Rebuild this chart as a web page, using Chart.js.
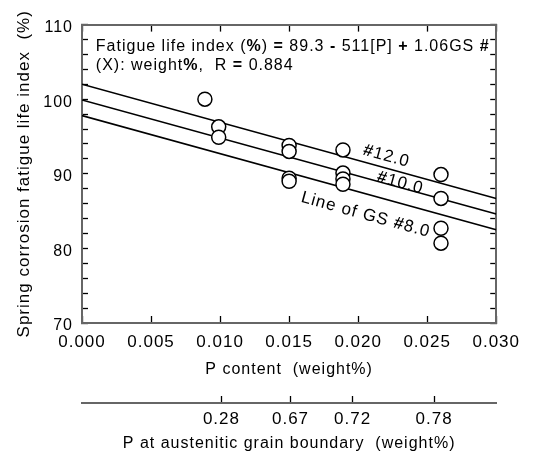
<!DOCTYPE html>
<html>
<head>
<meta charset="utf-8">
<script src="https://cdn.jsdelivr.net/npm/chart.js@4"></script>
<style>
  html, body { margin: 0; padding: 0; background: #fff; }
  #wrap { width: 534px; height: 461px; }
</style>
</head>
<body>
<div id="wrap"><canvas id="chart"></canvas></div>
<script>
// measured points: P content (wt%) vs fatigue life index (%)
const pContent = [0.0089, 0.0099, 0.0099, 0.0150, 0.0150, 0.0150, 0.0150,
  0.0189, 0.0189, 0.0189, 0.0189, 0.0260, 0.0260, 0.0260, 0.0260];
const fatigueIndex = [100.0, 96.3, 94.9, 93.8, 93.0, 89.4, 89.0,
  93.2, 90.1, 89.3, 88.6, 89.9, 86.7, 82.7, 80.7];

// regression lines, end points at P = 0 and P = 0.030
const lineP = [0, 0.030];
const gs12 = [102.0, 86.7];
const gs10 = [99.9, 84.6];
const gs8 = [97.8, 82.5];

// secondary axis: P at austenitic grain boundary
const boundaryTickPos = [0.0101, 0.0151, 0.0196, 0.0255];
const boundaryLabels = ["0.28", "0.67", "0.72", "0.78"];

const FONT = '"Liberation Sans", Arial, Helvetica, sans-serif';
Chart.defaults.font.family = FONT;
Chart.defaults.color = "#000";

const FRAME = "#666";

const pts = (xs, ys) => xs.map((v, i) => ({ x: v, y: ys[i] }));

function lineSet(vals) {
  return {
    type: "line",
    data: pts(lineP, vals),
    borderColor: "#000",
    borderWidth: 1.6,
    pointRadius: 0,
    fill: false,
  };
}

// draw a string made of normal / bold pieces
function runs(ctx, x, y, angle, size, parts) {
  ctx.save();
  ctx.translate(x, y);
  ctx.rotate(angle);
  ctx.textAlign = "left";
  ctx.textBaseline = "alphabetic";
  ctx.fillStyle = "#000";
  let cx = 0;
  parts.forEach(([text, bold]) => {
    ctx.font = (bold ? "bold " : "") + size + "px " + FONT;
    ctx.fillText(text, cx, 0);
    cx += ctx.measureText(text).width;
  });
  ctx.restore();
}

const spacing = {
  id: "spacing",
  beforeDraw(chart) {
    chart.ctx.letterSpacing = "1px";
  },
};

const notes = {
  id: "notes",
  afterDraw(chart) {
    const { ctx } = chart;
    const { x, y } = chart.scales;
    const px = (v) => x.getPixelForValue(v);
    const py = (v) => y.getPixelForValue(v);
    const ang = Math.atan2(py(gs10[1]) - py(gs10[0]), px(lineP[1]) - px(lineP[0]));

    runs(ctx, px(0.001), py(106.45), 0, 16, [
      ["Fatigue life index (", false], ["%", true], [") ", false], ["=", true],
      [" 89.3 ", false], ["-", true], [" 511[P] ", false], ["+", true],
      [" 1.06GS ", false], ["#", true],
    ]);
    runs(ctx, px(0.001), py(103.9), 0, 16, [
      ["(X): weight", false], ["%", true], [",  R ", false], ["=", true], [" 0.884", false],
    ]);

    runs(ctx, px(0.0203), py(92.6), ang, 17, [["#", true], ["12.0", false]]);
    runs(ctx, px(0.0213), py(89.0), ang, 17, [["#", true], ["10.0", false]]);
    runs(ctx, px(0.0158), py(86.25), ang, 17, [["Line of GS ", false], ["#", true], ["8.0", false]]);
  },
};

const tickGrid = (len) => ({
  drawOnChartArea: false,
  drawTicks: true,
  tickLength: len,
  color: "#000",
  tickWidth: 1.3,
});
const frame = { display: true, color: FRAME, width: 2 };

new Chart(document.getElementById("chart"), {
  type: "scatter",
  data: {
    datasets: [
      {
        data: pts(pContent, fatigueIndex),
        pointRadius: 7,
        pointBorderWidth: 1.5,
        pointBorderColor: "#000",
        pointBackgroundColor: "#fff",
      },
      lineSet(gs12),
      lineSet(gs10),
      lineSet(gs8),
    ],
  },
  options: {
    responsive: true,
    maintainAspectRatio: false,
    animation: false,
    layout: { padding: 0 },
    plugins: { legend: { display: false }, tooltip: { enabled: false } },
    scales: {
      x: {
        type: "linear",
        position: "bottom",
        weight: 0,
        min: 0,
        max: 0.03,
        grid: tickGrid(-7),
        border: frame,
        ticks: {
          stepSize: 0.005,
          autoSkip: false,
          maxRotation: 0,
          padding: 16.5,
          font: { size: 17 },
          callback: (v) => v.toFixed(3),
        },
        title: {
          display: true,
          text: "P content  (weight%)",
          font: { size: 16 },
          padding: { top: 0, bottom: 24 },
        },
        afterFit: (s) => { s.height = 80; },
      },
      x2: {
        type: "linear",
        position: "bottom",
        weight: 1,
        min: 0,
        max: 0.03,
        grid: tickGrid(-7),
        border: { display: true, color: FRAME, width: 2 },
        afterBuildTicks: (s) => {
          s.ticks = boundaryTickPos.map((v) => ({ value: v }));
        },
        ticks: {
          autoSkip: false,
          maxRotation: 0,
          padding: 13,
          font: { size: 17 },
          callback: (v, i) => boundaryLabels[i],
        },
        title: {
          display: true,
          text: "P at austenitic grain boundary  (weight%)",
          font: { size: 16 },
          padding: { top: 0, bottom: 8 },
        },
        afterFit: (s) => { s.height = 58; },
      },
      x3: {
        type: "linear",
        position: "top",
        min: 0,
        max: 0.03,
        grid: tickGrid(-7),
        border: frame,
        ticks: { stepSize: 0.005, autoSkip: false, display: false },
        afterFit: (s) => { s.height = 15; },
      },
      y: {
        type: "linear",
        position: "left",
        min: 70,
        max: 110,
        grid: tickGrid(-6),
        border: frame,
        ticks: {
          stepSize: 2,
          autoSkip: false,
          padding: 15,
          labelOffset: 3,
          font: { size: 16 },
          callback: (v) => (v % 10 === 0 ? String(v) : ""),
        },
        title: {
          display: true,
          text: "Spring corrosion fatigue life index  (%)",
          font: { size: 17 },
          padding: { top: 14, bottom: 0 },
        },
        afterFit: (s) => { s.width = 82; },
      },
      y2: {
        type: "linear",
        position: "right",
        min: 70,
        max: 110,
        grid: tickGrid(-6),
        border: frame,
        ticks: { stepSize: 2, autoSkip: false, display: false },
        afterFit: (s) => { s.width = 37; },
      },
    },
  },
  plugins: [spacing, notes],
});
</script>
</body>
</html>
